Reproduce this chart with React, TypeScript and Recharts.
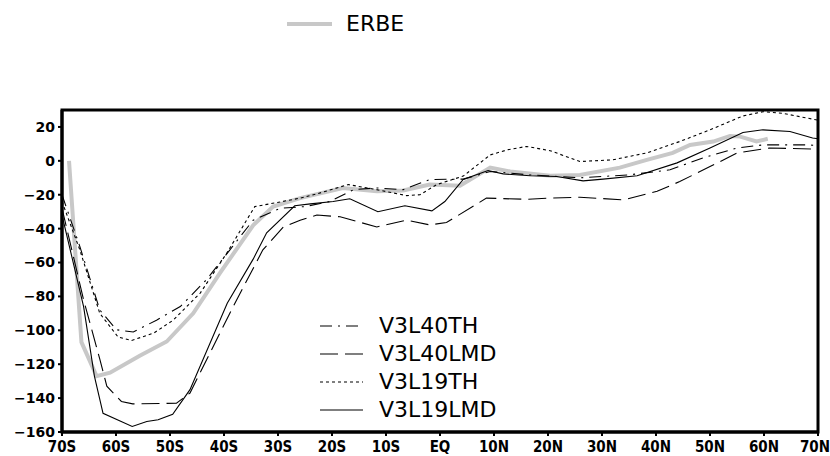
import { Line, LineChart, XAxis, YAxis } from "recharts";

// latitude ticks and labels
const latTicks = [-70, -60, -50, -40, -30, -20, -10, 0, 10, 20, 30, 40, 50, 60, 70];
const latLabels = ["70S", "60S", "50S", "40S", "30S", "20S", "10S", "EQ", "10N", "20N", "30N", "40N", "50N", "60N", "70N"];
const valTicks = [-160, -140, -120, -100, -80, -60, -40, -20, 0, 20];

// ERBE observations
const erbeLat = [-68.7, -66.4, -63.6, -61.1, -55.6, -50.6, -45.7, -40.7, -34.6, -30.9, -25.9, -18, -11.7, -6.8, -1.9, 3.7, 9.3, 13, 20.4, 25.9, 33.3, 38.3, 43.1, 46.3, 50.6, 53.7, 55.6, 58.6, 60.7];
const erbeVal = [0, -107, -127, -125, -115, -106.6, -90, -66, -38, -27, -22, -16, -18, -17.5, -14, -14.7, -4, -6.3, -8.8, -8.3, -4, 0.6, 4.7, 9.4, 11.4, 14.7, 14.3, 11.4, 13];

// V3L40TH
const l40thLat = [-70, -66.7, -63, -59.9, -56.8, -52.5, -48.1, -43.2, -38.9, -34.6, -29.6, -25, -20.4, -16, -11.7, -6.8, -1.9, 4.3, 9.3, 16.7, 25.9, 35, 42.6, 48.7, 55, 59.8, 68, 70];
const l40thVal = [-20, -50.5, -88, -99.7, -101, -94, -86, -70, -52.5, -35, -28, -27, -24, -17, -16, -17, -11, -10.8, -6.3, -8.3, -10, -8.3, -5.3, 1.7, 7.6, 9.4, 9.4, 9];

// V3L40LMD
const l40lmdLat = [-70, -66, -63, -61.7, -59, -56.9, -48.8, -46.3, -38.3, -32.8, -29, -25.9, -22.8, -18.5, -11.7, -6.2, -1.9, 1.2, 8.6, 16, 20.4, 25.9, 34, 40.2, 44.4, 50, 55, 61, 69, 70];
const l40lmdVal = [-28, -82, -117, -133, -142, -143.4, -143, -137, -86, -52.5, -39, -35, -32, -33, -39, -35, -37.8, -36.4, -22, -22.7, -22, -21.5, -23, -18, -12.2, -3.4, 4.6, 7.6, 7, 7];

// V3L19TH
const l19thLat = [-70, -66.7, -63, -59.6, -57.1, -53, -49.4, -44.4, -39.4, -34.3, -30.2, -25.9, -22.8, -17, -12.4, -6.2, -3.7, -0.6, 4.3, 9.3, 12.5, 16, 20.4, 25.9, 32, 38.3, 44.4, 50, 56.1, 59.8, 63.5, 70];
const l19thVal = [-24, -52.5, -90, -104, -106, -101.6, -94, -78, -54, -27, -24.6, -22, -19.5, -14, -16.6, -20.5, -20, -14, -9, 3.5, 6.5, 8.5, 6, -0.4, 0.6, 4.7, 11.4, 18.3, 26.5, 29, 28, 24];

// V3L19LMD
const l19lmdLat = [-70, -66, -64, -62.4, -57, -54.3, -52.2, -49.5, -46.3, -39.4, -34.6, -32.1, -26.9, -24, -19.8, -16.7, -11.5, -6.5, -1.5, 0.9, 4.3, 8.9, 11.7, 16.7, 21.6, 26.5, 30.2, 36.5, 43.9, 50, 56.1, 59.8, 64.8, 69, 70];
const l19lmdVal = [-32, -86, -127, -149, -156.7, -153.8, -152.8, -149.5, -135, -84, -58, -42.5, -26.5, -25.4, -24, -22.4, -30, -26.5, -29.5, -24, -11, -5.7, -7.7, -8.8, -9.2, -11.8, -10.8, -8.8, -1.2, 7.6, 16.7, 18.3, 17.3, 13.5, 13];

const toRows = (lats: number[], vals: number[]) => lats.map((lat, i) => ({ lat, v: vals[i] }));

const series = [
  { name: "V3L40TH", data: toRows(l40thLat, l40thVal), dash: "12 6 2 6" },
  { name: "V3L40LMD", data: toRows(l40lmdLat, l40lmdVal), dash: "18 7" },
  { name: "V3L19TH", data: toRows(l19thLat, l19thVal), dash: "3 3" },
  { name: "V3L19LMD", data: toRows(l19lmdLat, l19lmdVal), dash: undefined },
];

const legendFont = { fontFamily: "'DejaVu Sans', sans-serif", fontSize: 22, fontWeight: 400, color: "#000" };
const tickFont = "'DejaVu Sans Condensed', 'DejaVu Sans', sans-serif";
const yTickStyle = { fontFamily: "'DejaVu Sans', sans-serif", fontSize: 14, fontWeight: 700, fill: "#000" };

// x tick: keep the last label inside the picture
function LatTick({ x, y, payload }: any) {
  const label = latLabels[latTicks.indexOf(payload.value)];
  const shift = payload.value === 70 ? -3 : 0;
  return (
    <text
      x={x + shift}
      y={y}
      dy="0.71em"
      textAnchor="middle"
      fontFamily={tickFont}
      fontSize={15}
      fontWeight={700}
      fill="#000"
    >
      {label}
    </text>
  );
}

function LegendRow({ x, y, label, dash, gray }: { x: number; y: number; label: string; dash?: string; gray?: boolean }) {
  return (
    <div style={{ position: "absolute", left: x, top: y - 13, height: 26, display: "flex", alignItems: "center" }}>
      <svg width={45} height={26} style={{ display: "block" }}>
        <line
          x1={0}
          x2={gray ? 45 : 43}
          y1={13}
          y2={13}
          stroke={gray ? "#c8c8c8" : "#000"}
          strokeWidth={gray ? 4 : 1.2}
          strokeDasharray={dash}
          strokeLinecap={gray ? "round" : "butt"}
        />
      </svg>
      <span style={{ ...legendFont, marginLeft: 14, lineHeight: "26px", whiteSpace: "nowrap" }}>{label}</span>
    </div>
  );
}

export default function App() {
  return (
    <div style={{ position: "absolute", left: 0, top: 0, width: 830, height: 456, background: "#fff" }}>
      <LineChart width={830} height={456} margin={{ top: 110, right: 12, left: 0, bottom: 0 }}>
        <XAxis
          dataKey="lat"
          type="number"
          domain={[-70, 70]}
          ticks={latTicks}
          allowDataOverflow
          height={24}
          tickSize={4}
          tickMargin={5}
          interval={0}
          axisLine={{ stroke: "#000", strokeWidth: 3 }}
          tickLine={{ stroke: "#000", strokeWidth: 2 }}
          tick={<LatTick />}
        />
        <YAxis
          type="number"
          domain={[-160, 30]}
          ticks={valTicks}
          allowDataOverflow
          width={62}
          tickSize={4}
          tickMargin={3}
          interval={0}
          tickFormatter={(v: number) => (v < 0 ? `\u2212${-v}` : `${v}`)}
          axisLine={{ stroke: "#000", strokeWidth: 3 }}
          tickLine={{ stroke: "#000", strokeWidth: 2 }}
          tick={yTickStyle}
        />
        <Line
          data={toRows(erbeLat, erbeVal)}
          dataKey="v"
          type="linear"
          stroke="#c8c8c8"
          strokeWidth={4}
          dot={false}
          isAnimationActive={false}
        />
        {series.map((s) => (
          <Line
            key={s.name}
            data={s.data}
            dataKey="v"
            type="linear"
            stroke="#000"
            strokeWidth={1.1}
            strokeDasharray={s.dash}
            dot={false}
            isAnimationActive={false}
          />
        ))}
      </LineChart>
      {/* plot frame (top and right edges) */}
      <svg width={830} height={456} style={{ position: "absolute", left: 0, top: 0, pointerEvents: "none" }}>
        <rect x={62} y={110} width={756} height={322} fill="none" stroke="#000" strokeWidth={3} />
      </svg>
      <LegendRow x={287} y={24} label="ERBE" gray />
      {series.map((s, i) => (
        <LegendRow key={s.name} x={320} y={326 + i * 28} label={s.name} dash={s.dash} />
      ))}
    </div>
  );
}
